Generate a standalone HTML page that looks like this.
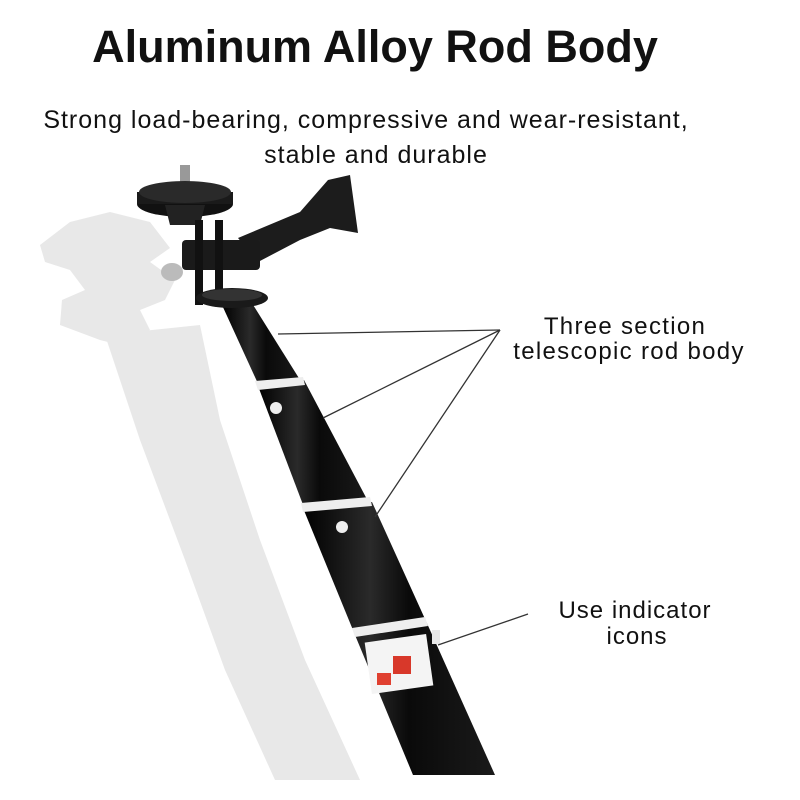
<!DOCTYPE html>
<html><head><meta charset="utf-8"><style>
html,body{margin:0;padding:0;background:#fff;width:800px;height:800px;overflow:hidden}
svg{display:block}
</style></head><body>
<svg width="800" height="800" viewBox="0 0 800 800" xmlns="http://www.w3.org/2000/svg">
<defs>
<linearGradient id="rod" x1="0" y1="0" x2="1" y2="0">
<stop offset="0" stop-color="#000"/><stop offset="0.35" stop-color="#2a2a2a"/><stop offset="0.55" stop-color="#0a0a0a"/><stop offset="1" stop-color="#1a1a1a"/>
</linearGradient>
</defs>
<rect width="800" height="800" fill="#fff"/>
<!-- ghost -->
<g fill="#e8e8e8">
<polygon points="40,245 70,222 110,212 150,222 170,248 150,262 175,280 165,300 140,310 150,330 120,345 100,340 60,325 62,300 85,290 70,270 45,262"/>
<polygon points="105,335 200,325 220,420 260,540 305,660 360,780 275,780 225,670 185,560 140,440"/>
</g>
<!-- rod sections -->
<polygon fill="url(#rod)" points="222,305 250,300 302,383 260,388"/>
<polygon fill="url(#rod)" points="258,386 304,380 370,505 305,510"/>
<polygon fill="url(#rod)" points="303,508 372,502 430,630 495,775 413,775 355,635"/>
<!-- bands -->
<polygon fill="#eee" points="255,381 303,377 305,385 258,390"/>
<polygon fill="#eee" points="301,503 370,497 372,506 303,512"/>
<polygon fill="#eee" points="352,628 425,617 428,626 355,637"/>
<circle cx="276" cy="408" r="6" fill="#eee"/>
<circle cx="342" cy="527" r="6" fill="#eee"/>
<!-- label -->
<rect x="368" y="638" width="62" height="52" fill="#f4f4f4" transform="rotate(-8 399 664)"/>
<rect x="393" y="656" width="18" height="18" fill="#d8382a"/>
<rect x="377" y="673" width="14" height="12" fill="#e04030"/>
<rect x="432" y="630" width="8" height="14" fill="#e8e8e8"/>
<!-- mount -->
<rect x="180" y="165" width="10" height="22" fill="#999"/>
<ellipse cx="185" cy="204" rx="48" ry="13" fill="#111"/>
<rect x="137" y="192" width="96" height="12" fill="#1a1a1a"/>
<ellipse cx="185" cy="192" rx="46" ry="11" fill="#2a2a2a"/>
<polygon points="165,205 205,205 200,225 170,225" fill="#222"/>
<path d="M238,238 L300,212 L328,180 L350,175 L358,233 L330,228 L300,240 L258,262 Z" fill="#1c1c1c"/>
<rect x="182" y="240" width="78" height="30" rx="4" fill="#1a1a1a"/>
<rect x="195" y="220" width="8" height="85" fill="#111"/>
<rect x="215" y="220" width="8" height="85" fill="#111"/>
<ellipse cx="172" cy="272" rx="11" ry="9" fill="#bbb"/>
<ellipse cx="232" cy="298" rx="36" ry="10" fill="#1a1a1a"/>
<ellipse cx="232" cy="295" rx="30" ry="6" fill="#333"/>
<!-- lines -->
<g stroke="#333" stroke-width="1.3" fill="none">
<line x1="500" y1="330" x2="278" y2="334"/>
<line x1="500" y1="330" x2="323" y2="418"/>
<line x1="500" y1="330" x2="375" y2="517"/>
<line x1="528" y1="614" x2="438" y2="645"/>
</g>
<!-- text -->
<g font-family="Liberation Sans, sans-serif" fill="#111">
<text x="375" y="62" font-size="45" font-weight="900" text-anchor="middle">Aluminum Alloy Rod Body</text>
<text x="366" y="128" font-size="25" letter-spacing="1" text-anchor="middle">Strong load-bearing, compressive and wear-resistant,</text>
<text x="376" y="163" font-size="25" letter-spacing="1" text-anchor="middle">stable and durable</text>
<text x="625" y="334" font-size="24" letter-spacing="1.3" text-anchor="middle">Three section</text>
<text x="629" y="359" font-size="24" letter-spacing="1.3" text-anchor="middle">telescopic rod body</text>
<text x="635" y="618" font-size="24" letter-spacing="1" text-anchor="middle">Use indicator</text>
<text x="637" y="644" font-size="24" letter-spacing="1" text-anchor="middle">icons</text>
</g>
</svg>
</body></html>
